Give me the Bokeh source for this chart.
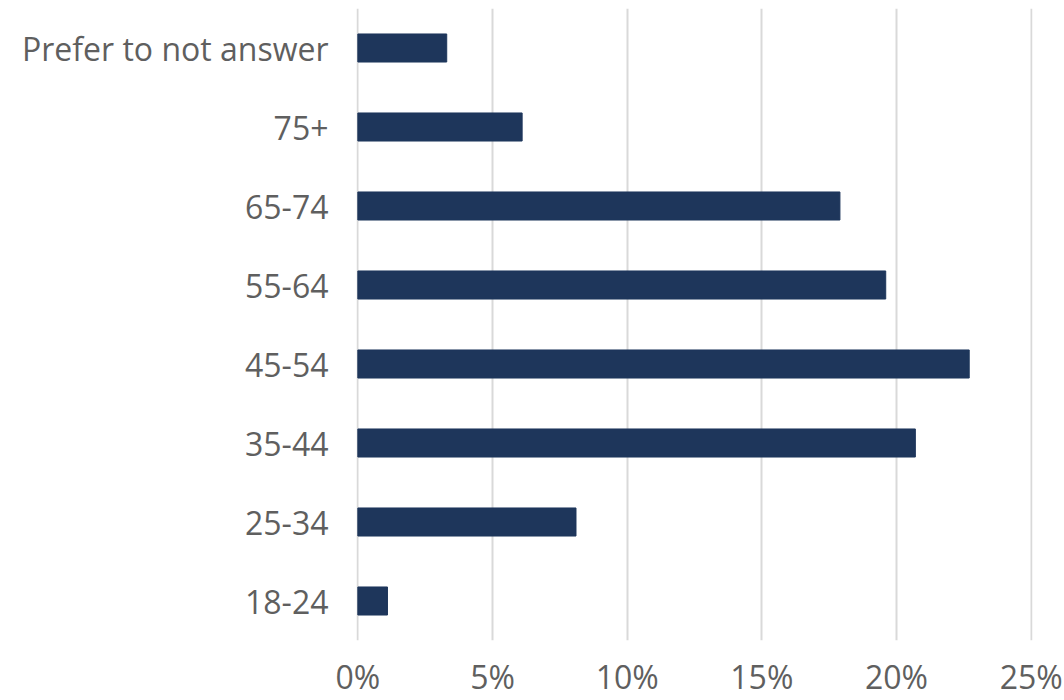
from bokeh.plotting import figure
from bokeh.models import NumeralTickFormatter, FixedTicker
from bokeh.embed import file_html
from bokeh.resources import INLINE

categories = ["18-24", "25-34", "35-44", "45-54", "55-64", "65-74", "75+", "Prefer to not answer"]
shares = [0.011, 0.081, 0.207, 0.227, 0.196, 0.179, 0.061, 0.033]
x_ticks = [0, 0.05, 0.10, 0.15, 0.20, 0.25]

p = figure(y_range=categories, x_range=(-0.0005, 0.2505), width=1064, height=700,
           output_backend="svg", toolbar_location=None,
           min_border_left=356, min_border_right=32, min_border_top=8, min_border_bottom=58)

p.hbar(y=categories, right=shares, left=0, height=0.355, color="#1E365B")

p.outline_line_color = None
p.ygrid.grid_line_color = None
p.xgrid.grid_line_color = "#D9D9D9"
p.xgrid.grid_line_width = 2
p.xaxis.ticker = FixedTicker(ticks=x_ticks)
p.xaxis.formatter = NumeralTickFormatter(format="0%")

for ax in (p.xaxis, p.yaxis):
    ax.axis_line_color = None
    ax.major_tick_line_color = None
    ax.minor_tick_line_color = None
    ax.major_label_text_color = "#5F5F5F"
    ax.major_label_text_font = "Open Sans"
    ax.major_label_text_font_size = "32px"

p.yaxis.major_label_standoff = 22
p.xaxis.major_label_standoff = 8

open("out.html", "w").write(file_html(p, INLINE))
